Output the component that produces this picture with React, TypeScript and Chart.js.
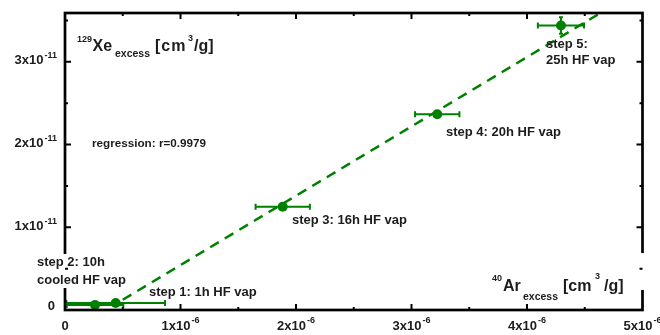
import React, { useEffect, useRef } from "react";
import { Chart, registerables } from "chart.js";

Chart.register(...registerables);

// ---- data ----
const stepNames = ["step 1", "step 2", "step 3", "step 4", "step 5"];
const arExcess = [0.439e-6, 0.26e-6, 1.885e-6, 3.223e-6, 4.294e-6];
const xeExcess = [0.085e-11, 0.06e-11, 1.248e-11, 2.367e-11, 3.438e-11];
const arError = [0.427e-6, 0.245e-6, 0.235e-6, 0.192e-6, 0.2e-6];
const xeError = [0, 0, 0, 0, 0.1e-11];
const regressionX = [0.5e-6, 4.75e-6];
const regressionY = [0.124e-11, 3.685e-11];

const xMajorTicks = [0, 1e-6, 2e-6, 3e-6, 4e-6, 5e-6];
const xMinorTicks = [0.5e-6, 1.5e-6, 2.5e-6, 3.5e-6, 4.5e-6];
const xTickMain = ["0", "1x10", "2x10", "3x10", "4x10", "5x10"];
const xTickExp = ["", "-6", "-6", "-6", "-6", "-6"];
const yMajorTicks = [0, 1e-11, 2e-11, 3e-11];
const yMinorTicks = [0.5e-11, 1.5e-11, 2.5e-11, 3.5e-11];
const yTickMain = ["0", "1x10", "2x10", "3x10"];
const yTickExp = ["", "-11", "-11", "-11"];

const GREEN = "#008000";
const TEXT = "#1c1c1c";
const FONT = '"Liberation Sans", Arial, sans-serif';

type Part = { t: string; size: number; dy?: number; ls?: number };

function partWidth(ctx: CanvasRenderingContext2D, p: Part) {
  ctx.font = `bold ${p.size}px ${FONT}`;
  (ctx as any).letterSpacing = `${p.ls || 0}px`;
  const w = ctx.measureText(p.t).width;
  (ctx as any).letterSpacing = "0px";
  return w;
}

function drawParts(
  ctx: CanvasRenderingContext2D,
  parts: Part[],
  x: number,
  y: number,
  align: "left" | "center" | "right",
  gap = 1
) {
  const widths = parts.map((p) => partWidth(ctx, p));
  const total = widths.reduce((a, b) => a + b, 0) + gap * (parts.length - 1);
  let cx = align === "left" ? x : align === "center" ? x - total / 2 : x - total;
  parts.forEach((p, i) => {
    ctx.font = `bold ${p.size}px ${FONT}`;
    (ctx as any).letterSpacing = `${p.ls || 0}px`;
    ctx.textAlign = "left";
    ctx.textBaseline = "middle";
    ctx.fillText(p.t, cx, y + (p.dy || 0));
    (ctx as any).letterSpacing = "0px";
    cx += widths[i] + gap;
  });
}

function drawText(ctx: CanvasRenderingContext2D, t: string, x: number, y: number, size: number) {
  ctx.font = `bold ${size}px ${FONT}`;
  ctx.textAlign = "left";
  ctx.textBaseline = "middle";
  ctx.fillText(t, x, y);
}

const errorBarPlugin = {
  id: "errorBars",
  beforeDatasetsDraw(chart: any) {
    const { ctx, scales } = chart;
    const xs = scales.x;
    const ys = scales.y;
    ctx.save();
    ctx.strokeStyle = GREEN;
    ctx.lineWidth = 2;
    arExcess.forEach((xv, i) => {
      const yv = xeExcess[i];
      const py = ys.getPixelForValue(yv);
      const px = xs.getPixelForValue(xv);
      const x0 = xs.getPixelForValue(Math.max(0, xv - arError[i]));
      const x1 = xs.getPixelForValue(xv + arError[i]);
      ctx.beginPath();
      ctx.moveTo(x0, py);
      ctx.lineTo(x1, py);
      ctx.moveTo(x0, py - 3);
      ctx.lineTo(x0, py + 3);
      ctx.moveTo(x1, py - 3);
      ctx.lineTo(x1, py + 3);
      ctx.stroke();
      if (xeError[i] > 0) {
        const y0 = ys.getPixelForValue(yv - xeError[i]);
        const y1 = ys.getPixelForValue(yv + xeError[i]);
        ctx.beginPath();
        ctx.moveTo(px, y0);
        ctx.lineTo(px, y1);
        ctx.moveTo(px - 2, y0);
        ctx.lineTo(px + 2, y0);
        ctx.moveTo(px - 2, y1);
        ctx.lineTo(px + 2, y1);
        ctx.stroke();
      }
    });
    ctx.restore();
  },
};

const decorPlugin = {
  id: "decor",
  afterDraw(chart: any) {
    const { ctx, chartArea, scales } = chart;
    const xs = scales.x;
    const ys = scales.y;
    const { left, right, top, bottom } = chartArea;
    ctx.save();

    // frame
    ctx.strokeStyle = "#000";
    ctx.lineWidth = 2.7;
    ctx.strokeRect(left, top, right - left, bottom - top);

    // label backgrounds
    ctx.fillStyle = "#fff";
    ctx.fillRect(34, 254, 96, 34);
    ctx.fillRect(486, 253, 162, 37);

    // ticks (inward)
    ctx.lineWidth = 2;
    const tick = (len: number, vals: number[]) => {
      vals.forEach((v) => {
        const px = xs.getPixelForValue(v);
        ctx.beginPath();
        ctx.moveTo(px, bottom);
        ctx.lineTo(px, bottom - len);
        ctx.moveTo(px, top);
        ctx.lineTo(px, top + len);
        ctx.stroke();
      });
    };
    const ytick = (len: number, vals: number[]) => {
      vals.forEach((v) => {
        const py = ys.getPixelForValue(v);
        ctx.beginPath();
        ctx.moveTo(left, py);
        ctx.lineTo(left + len, py);
        ctx.moveTo(right, py);
        ctx.lineTo(right - len, py);
        ctx.stroke();
      });
    };
    tick(6, xMajorTicks.slice(1, -1));
    tick(3, xMinorTicks);
    ytick(6, yMajorTicks.slice(1));
    ytick(3, yMinorTicks);

    ctx.fillStyle = TEXT;
    // x tick labels
    xMajorTicks.forEach((v, i) => {
      const px = xs.getPixelForValue(v);
      const parts: Part[] = [{ t: xTickMain[i], size: 13 }];
      if (xTickExp[i]) parts.push({ t: xTickExp[i], size: 9, dy: -5 });
      drawParts(ctx, parts, px, 326, "center");
    });
    // y tick labels
    yMajorTicks.forEach((v, i) => {
      const py = Math.min(ys.getPixelForValue(v) - 1, 306);
      const parts: Part[] = [{ t: yTickMain[i], size: 13 }];
      if (yTickExp[i]) parts.push({ t: yTickExp[i], size: 9, dy: -5 });
      drawParts(ctx, parts, yTickExp[i] ? 57 : 55, py, "right");
    });

    // axis titles
    drawText(ctx, "129", 77, 40, 9);
    drawText(ctx, "Xe", 92.5, 47, 16);
    drawText(ctx, "excess", 115, 54.5, 10.5);
    (ctx as any).letterSpacing = "1px";
    drawText(ctx, "[cm", 155, 47, 16);
    (ctx as any).letterSpacing = "0px";
    drawText(ctx, "3", 188, 38.5, 9);
    drawText(ctx, "/g]", 194, 47, 16);

    drawText(ctx, "40", 492, 279, 9);
    drawText(ctx, "Ar", 503, 287, 16);
    drawText(ctx, "excess", 523, 297, 10.5);
    drawText(ctx, "[cm", 563, 287, 16);
    drawText(ctx, "3", 595, 277, 9);
    drawText(ctx, "/g]", 604, 287, 16);

    // annotations
    drawText(ctx, "regression: r=0.9979", 92, 144, 11.7);
    drawText(ctx, stepNames[0] + ": 1h HF vap", 149, 292, 13);
    drawText(ctx, stepNames[1] + ": 10h", 37, 262, 13);
    drawText(ctx, "cooled HF vap", 37, 280, 13);
    drawText(ctx, stepNames[2] + ": 16h HF vap", 292, 220, 13);
    drawText(ctx, stepNames[3] + ": 20h HF vap", 446, 132, 13);
    drawText(ctx, stepNames[4] + ":", 546, 44, 13);
    drawText(ctx, "25h HF vap", 546, 60, 13);

    ctx.restore();
  },
};

export default function App() {
  const ref = useRef<HTMLCanvasElement | null>(null);
  useEffect(() => {
    document.body.style.margin = "0";
    const canvas = ref.current;
    if (!canvas) return;
    const chart = new Chart(canvas, {
      type: "scatter",
      data: {
        datasets: [
          {
            type: "line",
            data: regressionX.map((x, i) => ({ x, y: regressionY[i] })),
            borderColor: GREEN,
            borderWidth: 2.5,
            borderDash: [10, 7],
            pointRadius: 0,
            fill: false,
            showLine: true,
          } as any,
          {
            data: arExcess.map((x, i) => ({ x, y: xeExcess[i] })),
            backgroundColor: GREEN,
            borderColor: GREEN,
            borderWidth: 0,
            pointRadius: 5,
            showLine: false,
          },
        ],
      },
      options: {
        responsive: false,
        animation: false,
        devicePixelRatio: 1,
        layout: { padding: { left: 65, top: 13, right: 17.5, bottom: 25 } },
        scales: {
          x: { type: "linear", min: 0, max: 5e-6, display: false },
          y: { type: "linear", min: 0, max: 3.59e-11, display: false },
        },
        plugins: {
          legend: { display: false },
          tooltip: { enabled: false },
        },
      },
      plugins: [errorBarPlugin, decorPlugin],
    });
    return () => chart.destroy();
  }, []);
  return (
    <div style={{ position: "fixed", left: 0, top: 0, width: 660, height: 335, background: "#fff" }}>
      <canvas ref={ref} width={660} height={335} style={{ display: "block" }} />
    </div>
  );
}
